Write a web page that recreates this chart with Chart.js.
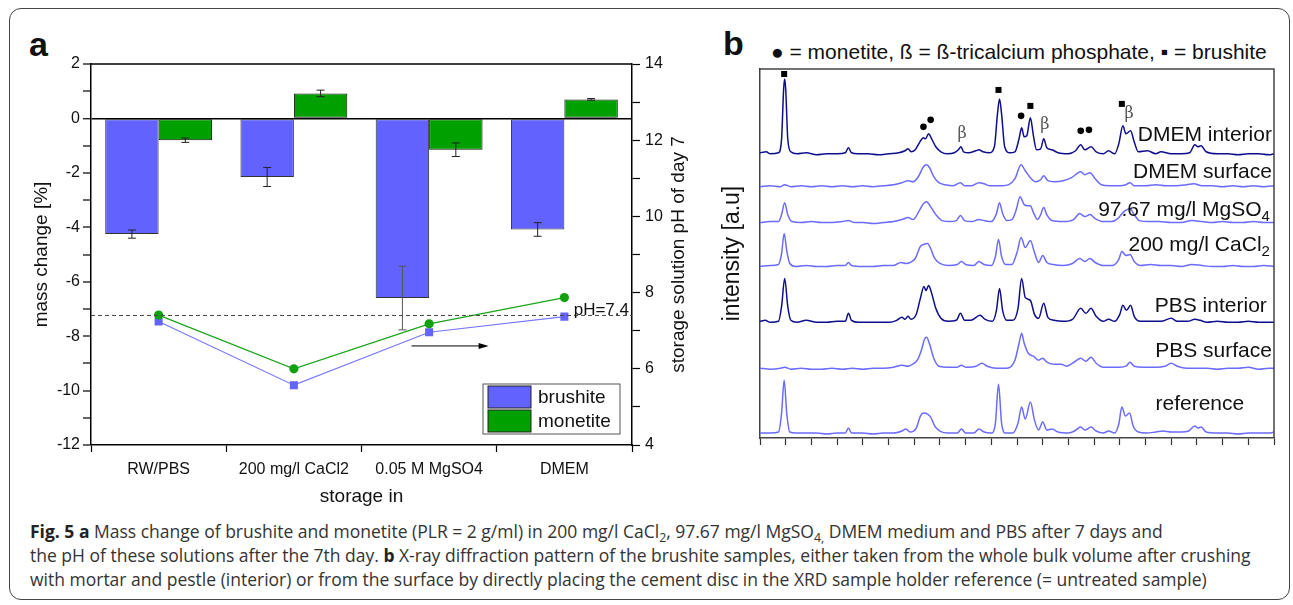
<!DOCTYPE html>
<html>
<head>
<meta charset="utf-8">
<script src="https://cdn.jsdelivr.net/npm/chart.js@4.4.1/dist/chart.umd.min.js"></script>
<style>
body { margin: 0; background: #fff; width: 1293px; height: 605px; overflow: hidden; position: relative; font-family: "Liberation Sans", Arial, sans-serif; }
.frame { position: absolute; left: 9px; top: 8px; width: 1279px; height: 590px; border: 1.5px solid #444; border-radius: 12px; }
#massChart { position: absolute; left: 0; top: 0; }
#xrdChart { position: absolute; left: 715px; top: 0; }
.panel { position: absolute; font-weight: bold; font-size: 34px; color: #111; line-height: 39px; }
.xrdTitle { position: absolute; left: 771px; top: 40px; font-size: 21px; white-space: nowrap; color: #111; }
.caption { position: absolute; left: 30px; top: 519px; font-family: "Open Sans", sans-serif; font-size: 17.5px; line-height: 24px; color: #333; white-space: nowrap; }
.caption b { color: #222; }
.caption sub { font-size: 70%; vertical-align: -4px; line-height: 0; }
</style>
</head>
<body>
<div class="frame"></div>
<div class="panel" style="left:29px; top:25px;">a</div>
<div class="panel" style="left:723px; top:24px;">b</div>
<div class="xrdTitle">● = monetite, ß = ß-tricalcium phosphate, ▪ = brushite</div>
<canvas id="massChart" width="715" height="515"></canvas>
<canvas id="xrdChart" width="578" height="470"></canvas>
<div class="caption">
<b>Fig. 5 a</b> Mass change of brushite and monetite (PLR = 2 g/ml) in 200 mg/l CaCl<sub>2</sub>, 97.67 mg/l MgSO<sub>4,</sub> DMEM medium and PBS after 7 days and<br>
the pH of these solutions after the 7th day. <b>b</b> X-ray diffraction pattern of the brushite samples, either taken from the whole bulk volume after crushing<br>
with mortar and pestle (interior) or from the surface by directly placing the cement disc in the XRD sample holder reference (= untreated sample)
</div>
<script>
Chart.defaults.font.family = '"Liberation Sans", Arial, sans-serif';
Chart.defaults.color = '#111';
Chart.defaults.animation = false;

// panel a
const categories = ['RW/PBS', '200 mg/l CaCl2', '0.05 M MgSO4', 'DMEM'];
const brushiteMass = [-4.25, -2.15, -6.6, -4.08];
const brushiteMassErr = [0.15, 0.35, 1.17, 0.25];
const monetiteMass = [-0.8, 0.92, -1.15, 0.7];
const monetiteMassErr = [0.08, 0.12, 0.25, 0.03];
const brushitePH = [7.24, 5.57, 6.96, 7.37];
const monetitePH = [7.41, 6.0, 7.18, 7.87];
const neutralPH = 7.4;
const arrowFrom = [1.87, 6.6]; // category index, pH
const arrowTo = [2.44, 6.6];

// panel b: [2theta, intensity incl. stacking offset]
const dmemInterior = [[10,286],[10.6,287],[11,285],[11.8,286],[12.1,300],[12.3,350],[12.4,360],[12.5,350],[12.7,300],[13,287],[13.6,285],[14.5,286],[15.5,284],[16.5,285],[17.5,285],[18.3,286],[18.6,291],[18.9,286],[19.5,285],[20.5,285],[21.5,284],[22.5,285],[23.5,286],[24.1,288],[24.4,290],[24.7,287],[25.1,289],[25.5,296],[25.9,301],[26.1,300],[26.4,305],[26.7,300],[27.1,292],[27.6,287],[28.2,285],[28.9,286],[29.3,289],[29.55,292],[29.8,287],[30.3,286],[31,288],[31.3,289],[31.7,287],[32.3,286],[32.8,292],[33.1,325],[33.3,340],[33.5,325],[33.8,292],[34.3,286],[34.8,287],[35.2,300],[35.45,311],[35.7,302],[35.95,303],[36.3,321],[36.6,303],[36.9,289],[37.3,290],[37.6,300],[37.9,291],[38.4,289],[39,286],[40,285],[40.7,288],[41.2,294],[41.6,289],[42.2,292],[42.7,287],[43.4,285],[43.9,288],[44.5,285],[44.9,295],[45.3,313],[45.6,305],[46.05,308],[46.4,297],[46.8,287],[47.7,288],[48.5,285],[49,287],[50,285],[51,285],[51.8,286],[52.3,294],[52.6,292],[52.9,293],[53.4,287],[54.5,285],[55.5,285],[56.5,284],[57.5,285],[58.5,285],[59.5,284],[60,285]];
const dmemSurface = [[10,252],[11,253],[12,252],[12.4,254],[13,252],[14,253],[15,252],[16,253],[17,252],[18,253],[19,252],[20,253],[21,252],[22,253],[23,254],[23.8,256],[24.4,258],[24.9,257],[25.4,262],[25.9,272],[26.2,274],[26.5,271],[26.9,262],[27.4,256],[28,254],[28.8,253],[29.5,256],[29.9,253],[30.6,253],[31.3,256],[31.8,255],[32.3,253],[33,253],[33.6,253],[34.2,254],[34.8,260],[35.4,274],[35.8,268],[36.3,261],[36.8,257],[37.3,259],[37.6,263],[38,258],[38.6,257],[39.5,258],[40.3,261],[41.2,267],[41.6,264],[42.1,266],[42.6,260],[43.2,254],[44,253],[45,253],[45.6,254],[46,256],[46.4,253],[47.5,253],[48.5,254],[49.5,253],[50.5,253],[51.5,254],[52.2,255],[53,253],[54,253],[55,252],[56,253],[57,252],[58,253],[59,252],[60,253]];
const mgso4 = [[10,216],[11,217],[11.8,217],[12.1,224],[12.4,236],[12.7,224],[13.1,217],[14,216],[15,217],[16,216],[17,216],[18,217],[18.6,218],[19.2,216],[20,216],[21,215],[22,216],[23,217],[23.8,219],[24.4,221],[24.9,219],[25.5,228],[25.9,235],[26.2,237],[26.6,232],[27.1,224],[27.7,218],[28.5,217],[29.1,218],[29.5,223],[29.9,218],[30.6,217],[31.3,219],[31.8,218],[32.5,217],[33,225],[33.3,236],[33.6,225],[34,218],[34.5,219],[34.9,228],[35.3,242],[35.7,234],[36,233],[36.3,233],[36.6,226],[37,219],[37.3,224],[37.6,231],[37.9,224],[38.4,218],[39.5,217],[40.5,219],[41.1,225],[41.6,222],[42.1,224],[42.6,220],[43.4,217],[44.2,217],[44.8,220],[45.3,226],[45.7,229],[46,230],[46.4,224],[46.9,218],[47.8,217],[48.8,217],[50,216],[51,216],[52,218],[53,217],[54,216],[55,217],[56,216],[57,216],[58,217],[59,216],[60,216]];
const cacl2 = [[10,172],[11,173],[11.8,174],[12.1,185],[12.35,205],[12.6,188],[12.9,175],[13.5,172],[14.5,173],[15.5,172],[16.5,172],[17.5,173],[18.3,173],[18.6,176],[18.9,173],[20,172],[21,172],[22,173],[23,173],[23.7,176],[24.2,175],[24.6,176],[25.1,180],[25.6,192],[25.9,194],[26.3,195],[26.6,190],[27,180],[27.5,175],[28.3,173],[29.2,174],[29.6,177],[30,174],[30.8,173],[31.3,177],[31.8,174],[32.5,173],[32.9,182],[33.2,199],[33.5,182],[33.9,174],[34.5,174],[35,186],[35.4,201],[35.8,191],[36.3,198],[36.7,186],[37.1,176],[37.5,183],[37.9,176],[38.5,174],[39.5,173],[40.4,175],[41.1,180],[41.6,177],[42.1,180],[42.6,176],[43.4,173],[44.3,173],[44.9,179],[45.2,187],[45.6,183],[46,184],[46.4,177],[47,173],[48,174],[49,173],[50,173],[51,172],[52,174],[53,173],[54,172],[55,172],[56,173],[57,172],[58,172],[59,173],[60,172]];
const pbsInterior = [[10,117],[10.5,118],[11,116],[11.8,117],[12.1,132],[12.4,160],[12.7,132],[13,118],[13.6,116],[14.5,118],[15.5,116],[16.5,116],[17.5,117],[18.3,117],[18.6,125],[18.9,118],[19.6,116],[20.6,116],[21.6,116],[22.6,116],[23.3,118],[23.8,121],[24.1,119],[24.4,122],[24.7,119],[25.2,124],[25.6,140],[25.95,152],[26.15,148],[26.4,153],[26.7,145],[27.1,130],[27.6,120],[28.3,117],[29.1,118],[29.5,125],[29.9,118],[30.5,118],[31.4,123],[31.9,119],[32.6,117],[33,128],[33.3,150],[33.6,128],[34,118],[34.6,118],[35.1,130],[35.45,160],[35.8,141],[36.3,138],[36.7,124],[37.1,120],[37.6,135],[38,121],[38.6,118],[39.5,117],[40.4,119],[41.2,130],[41.7,125],[42.2,130],[42.7,122],[43.4,117],[43.9,119],[44.5,117],[45,124],[45.3,133],[45.65,128],[46.05,133],[46.4,122],[47,117],[48,117],[49,117],[50,120],[50.6,117],[51.6,117],[52.3,119],[52.8,118],[53.5,116],[54.5,117],[55.5,116],[56.5,116],[57.5,117],[58.5,116],[59.5,116],[60,116]];
const pbsSurface = [[10,70],[11,69],[12,70],[12.4,71],[13,69],[14,70],[15,69],[16,69],[17,70],[18,69],[19,70],[20,69],[21,70],[22,70],[23,71],[23.8,73],[24.4,72],[25,75],[25.3,78],[25.7,88],[26,99],[26.2,101],[26.5,94],[26.9,80],[27.4,72],[28.3,71],[29.2,71],[29.6,73],[30,71],[31,72],[31.6,75],[32.1,72],[33,70],[34,70],[34.8,78],[35.2,95],[35.45,105],[35.7,95],[36.1,85],[36.6,82],[37.1,78],[37.5,80],[37.9,76],[38.6,74],[39.3,74],[39.8,72],[40.4,75],[41.2,80],[41.7,77],[42.2,81],[42.7,75],[43.4,71],[44.2,71],[45,71],[45.6,72],[46,76],[46.4,72],[47.3,71],[48.5,71],[49.4,72],[50,75],[50.6,72],[51.5,70],[52.5,70],[53.5,70],[54.5,69],[55.5,70],[56.5,70],[57.5,71],[58.5,69],[59.5,70],[60,70]];
const reference = [[10,5],[11,5],[11.8,6],[12.1,25],[12.35,58],[12.6,25],[12.9,6],[13.5,5],[14.5,5],[15.5,5],[16.5,4],[17.5,5],[18.3,5],[18.6,10],[18.9,5],[20,5],[21,4],[22,5],[23,5],[23.8,7],[24.2,9],[24.6,6],[25.2,10],[25.6,22],[25.9,25],[26.3,24],[26.6,21],[27,12],[27.5,7],[28.3,5],[29.2,5],[29.6,9],[30,5],[30.8,5],[31.3,9],[31.8,6],[32.5,5],[32.9,15],[33.2,54],[33.5,15],[33.9,5],[34.6,5],[35.1,15],[35.45,31],[35.8,19],[36.3,36],[36.7,18],[37.1,8],[37.5,16],[37.9,8],[38.4,9],[39,6],[40,5],[40.6,7],[41.2,11],[41.6,8],[42.2,11],[42.7,7],[43.4,5],[43.9,7],[44.5,5],[44.9,14],[45.2,31],[45.55,22],[45.95,25],[46.3,12],[46.8,6],[47.6,5],[48.5,6],[49.2,7],[50,6],[51,6],[51.7,7],[52.3,12],[52.6,10],[52.9,11],[53.4,6],[54.5,5],[55.5,5],[56.5,4],[57.5,5],[58.5,5],[59.5,5],[60,6]];
const xrdNames = ['DMEM interior', 'DMEM surface', '97.67 mg/l MgSO', '200 mg/l CaCl', 'PBS interior', 'PBS surface', 'reference'];
const xrdNameSubs = ['', '', '4', '2', '', '', ''];
const brushitePeaks = [[12.35, 365], [33.2, 349], [36.3, 333], [45.2, 335]];
const monetitePeaks = [[25.9, 312], [26.6, 319], [35.4, 323], [41.2, 308], [42.0, 309]];
const tcpPeaks = [[29.65, 305], [37.7, 314], [45.9, 325]];

const DARK = '#0e0e8c';
const LIGHT = '#6b6bff';

// label anchor (right edge in 2theta, baseline in a.u.) per trace
const labelAnchors = [[59.8, 298], [59.8, 261], [59.6, 223], [59.6, 188], [59.3, 126], [59.8, 81], [57.1, 28]];

const massPlugin = {
    id: 'massExtras',
    afterDatasetsDraw(chart) {
        const { ctx, chartArea: a, scales } = chart;
        const y = scales.y, y1 = scales.y1, x = scales.x;
        ctx.save();
        // top frame line
        ctx.strokeStyle = '#000';
        ctx.lineWidth = 1.5;
        ctx.beginPath();
        ctx.moveTo(a.left, a.top);
        ctx.lineTo(a.right, a.top);
        ctx.stroke();

        // error bars
        [brushiteMassErr, monetiteMassErr].forEach((errs, di) => {
            const meta = chart.getDatasetMeta(di);
            const vals = chart.data.datasets[di].data;
            meta.data.forEach((bar, i) => {
                const yt = y.getPixelForValue(vals[i] + errs[i]);
                const yb = y.getPixelForValue(vals[i] - errs[i]);
                ctx.strokeStyle = di === 0 && i === 2 ? '#555' : '#222';
                ctx.lineWidth = 1;
                ctx.beginPath();
                ctx.moveTo(bar.x, yt); ctx.lineTo(bar.x, yb);
                ctx.moveTo(bar.x - 4, yt); ctx.lineTo(bar.x + 4, yt);
                ctx.moveTo(bar.x - 4, yb); ctx.lineTo(bar.x + 4, yb);
                ctx.stroke();
            });
        });

        // pH 7.4 reference line
        const yRef = y1.getPixelForValue(neutralPH);
        ctx.strokeStyle = '#444';
        ctx.lineWidth = 1;
        ctx.setLineDash([4, 3]);
        ctx.beginPath();
        ctx.moveTo(a.left, yRef);
        ctx.lineTo(a.right, yRef);
        ctx.stroke();
        ctx.setLineDash([]);
        ctx.fillStyle = '#111';
        ctx.font = '17px "Liberation Sans"';
        ctx.textAlign = 'right';
        ctx.textBaseline = 'alphabetic';
        ctx.fillText('pH=' + neutralPH, a.right - 3, yRef);

        // arrow pointing to the right axis
        const ax0 = x.getPixelForValue(arrowFrom[0]), ay = y1.getPixelForValue(arrowFrom[1]);
        const ax1 = x.getPixelForValue(arrowTo[0]);
        ctx.strokeStyle = '#000';
        ctx.fillStyle = '#000';
        ctx.beginPath();
        ctx.moveTo(ax0, ay); ctx.lineTo(ax1 - 8, ay);
        ctx.stroke();
        ctx.beginPath();
        ctx.moveTo(ax1, ay); ctx.lineTo(ax1 - 10, ay - 3); ctx.lineTo(ax1 - 10, ay + 3);
        ctx.closePath();
        ctx.fill();

        // legend
        const lw = 137, lh = 50;
        const lx = a.right - 12 - lw, ly = a.bottom - 11 - lh;
        ctx.fillStyle = '#fff';
        ctx.fillRect(lx, ly, lw, lh);
        ctx.strokeStyle = '#555';
        ctx.lineWidth = 1;
        ctx.strokeRect(lx, ly, lw, lh);
        ctx.font = '19px "Liberation Sans"';
        ctx.textAlign = 'left';
        ctx.textBaseline = 'middle';
        [0, 1].forEach(di => {
            const ds = chart.data.datasets[di];
            const ry = ly + 2 + di * 24;
            ctx.fillStyle = ds.backgroundColor;
            ctx.fillRect(lx + 5, ry, 43, 22);
            ctx.strokeStyle = '#222';
            ctx.strokeRect(lx + 5, ry, 43, 22);
            ctx.fillStyle = '#111';
            ctx.fillText(ds.label, lx + 55, ry + 12);
        });

        // right axis title (reads bottom to top)
        ctx.save();
        ctx.translate(y1.right - 36, (a.top + a.bottom) / 2);
        ctx.rotate(-Math.PI / 2);
        ctx.textAlign = 'center';
        ctx.textBaseline = 'middle';
        ctx.font = '19px "Liberation Sans"';
        ctx.fillStyle = '#111';
        ctx.fillText('storage solution pH of day 7', 0, 0);
        ctx.restore();
        ctx.restore();
    }
};

new Chart(document.getElementById('massChart'), {
    type: 'bar',
    data: {
        labels: categories,
        datasets: [
            { label: 'brushite', data: brushiteMass, backgroundColor: '#6262ff', borderColor: '#333', borderWidth: 1, borderSkipped: false, barPercentage: 1, categoryPercentage: 0.79, yAxisID: 'y', order: 5 },
            { label: 'monetite', data: monetiteMass, backgroundColor: '#00a000', borderColor: '#111', borderWidth: 1, borderSkipped: false, barPercentage: 1, categoryPercentage: 0.79, yAxisID: 'y', order: 5 },
            { type: 'line', label: 'brushite pH', data: brushitePH, yAxisID: 'y1', borderColor: '#7777ff', borderWidth: 1.2, pointStyle: 'rect', pointRadius: 5.7, pointBackgroundColor: '#6464ff', pointBorderWidth: 0, order: 1 },
            { type: 'line', label: 'monetite pH', data: monetitePH, yAxisID: 'y1', borderColor: '#1aa51a', borderWidth: 1.2, pointStyle: 'circle', pointRadius: 4.6, pointBackgroundColor: '#10a010', pointBorderWidth: 0, order: 0 },
        ],
    },
    options: {
        responsive: false,
        layout: { padding: { top: 64, left: 0, right: 0, bottom: 0 } },
        plugins: { legend: { display: false }, tooltip: { enabled: false } },
        scales: {
            x: {
                offset: true,
                grid: { offset: true, drawOnChartArea: false, tickLength: 7, tickColor: '#000', tickWidth: 1.2 },
                border: { color: '#000', width: 1.5 },
                ticks: { font: { size: 16 }, padding: 8, maxRotation: 0, autoSkip: false },
                title: { display: true, text: 'storage in', font: { size: 19 }, padding: { top: 0, bottom: 7 } },
                afterFit(s) { s.height = 70; },
            },
            y: {
                position: 'left', min: -12, max: 2,
                ticks: { stepSize: 1, font: { size: 16 }, padding: 3, callback: v => (v % 2 === 0 ? v : '') },
                grid: {
                    color: c => (c.tick && c.tick.value === 0 ? '#000' : 'rgba(0,0,0,0)'),
                    lineWidth: c => (c.tick && c.tick.value === 0 ? 1.5 : 0),
                    tickColor: '#000', tickWidth: 1.2, tickLength: 8,
                },
                border: { color: '#000', width: 1.5 },
                title: { display: true, text: 'mass change [%]', font: { size: 19 }, padding: { top: 30, bottom: 0 } },
                afterFit(s) { s.width = 91; },
            },
            y1: {
                position: 'right', min: 4, max: 14,
                ticks: { stepSize: 1, font: { size: 16 }, padding: 5, callback: v => (v % 2 === 0 ? v : '') },
                grid: { drawOnChartArea: false, tickLength: 8, tickColor: '#000', tickWidth: 1.2 },
                border: { color: '#000', width: 1.5 },
                afterFit(s) { s.width = 83; },
            },
        },
    },
    plugins: [massPlugin],
});

const xrdPlugin = {
    id: 'xrdExtras',
    afterDatasetsDraw(chart) {
        const { ctx, chartArea: a, scales: { x, y } } = chart;
        ctx.save();
        ctx.strokeStyle = '#444';
        ctx.lineWidth = 1.5;
        ctx.beginPath();
        ctx.moveTo(a.left, a.top);
        ctx.lineTo(a.right, a.top);
        ctx.lineTo(a.right, a.bottom);
        ctx.stroke();

        ctx.fillStyle = '#111';
        xrdNames.forEach((name, i) => {
            const xr = x.getPixelForValue(labelAnchors[i][0]);
            const yb = y.getPixelForValue(labelAnchors[i][1]);
            let subW = 0;
            ctx.font = '15px "Liberation Sans"';
            if (xrdNameSubs[i]) subW = ctx.measureText(xrdNameSubs[i]).width;
            ctx.textBaseline = 'alphabetic';
            if (xrdNameSubs[i]) {
                ctx.textAlign = 'left';
                ctx.fillText(xrdNameSubs[i], xr - subW, yb + 5);
            }
            ctx.font = '21px "Liberation Sans"';
            ctx.textAlign = 'right';
            ctx.fillText(name, xr - subW, yb);
        });

        ctx.fillStyle = '#000';
        brushitePeaks.forEach(p => {
            const px = x.getPixelForValue(p[0]), py = y.getPixelForValue(p[1]);
            ctx.fillRect(px - 3, py - 3, 6, 6);
        });
        monetitePeaks.forEach(p => {
            const px = x.getPixelForValue(p[0]), py = y.getPixelForValue(p[1]);
            ctx.beginPath();
            ctx.arc(px, py, 3.3, 0, Math.PI * 2);
            ctx.fill();
        });
        ctx.fillStyle = '#555';
        ctx.font = '16px "DejaVu Serif"';
        ctx.textAlign = 'center';
        ctx.textBaseline = 'middle';
        tcpPeaks.forEach(p => {
            ctx.fillText('β', x.getPixelForValue(p[0]), y.getPixelForValue(p[1]));
        });
        ctx.restore();
    }
};

const traces = [dmemInterior, dmemSurface, mgso4, cacl2, pbsInterior, pbsSurface, reference];
new Chart(document.getElementById('xrdChart'), {
    type: 'line',
    data: {
        datasets: traces.map((t, i) => ({
            label: xrdNames[i] + xrdNameSubs[i],
            data: t.map(p => ({ x: p[0], y: p[1] })),
            borderColor: i === 0 || i === 4 ? DARK : LIGHT,
            borderWidth: 1.5,
            pointRadius: 0,
            cubicInterpolationMode: 'monotone',
        })),
    },
    options: {
        responsive: false,
        layout: { padding: { top: 69, left: 0, right: 19, bottom: 0 } },
        plugins: { legend: { display: false }, tooltip: { enabled: false } },
        scales: {
            x: {
                type: 'linear', min: 10, max: 60,
                ticks: { stepSize: 2.5, callback: () => '', autoSkip: false },
                grid: { drawOnChartArea: false, tickLength: 7, tickColor: '#333', tickWidth: 1.2 },
                border: { color: '#444', width: 1.5 },
                afterFit(s) { s.height = 32; },
            },
            y: {
                min: 0, max: 370,
                ticks: { display: false },
                grid: { display: false },
                border: { color: '#444', width: 1.5 },
                title: { display: true, text: 'intensity [a.u]', font: { size: 23 }, padding: { top: 4, bottom: 0 } },
                afterFit(s) { s.width = 45; },
            },
        },
    },
    plugins: [xrdPlugin],
});
</script>
</body>
</html>
